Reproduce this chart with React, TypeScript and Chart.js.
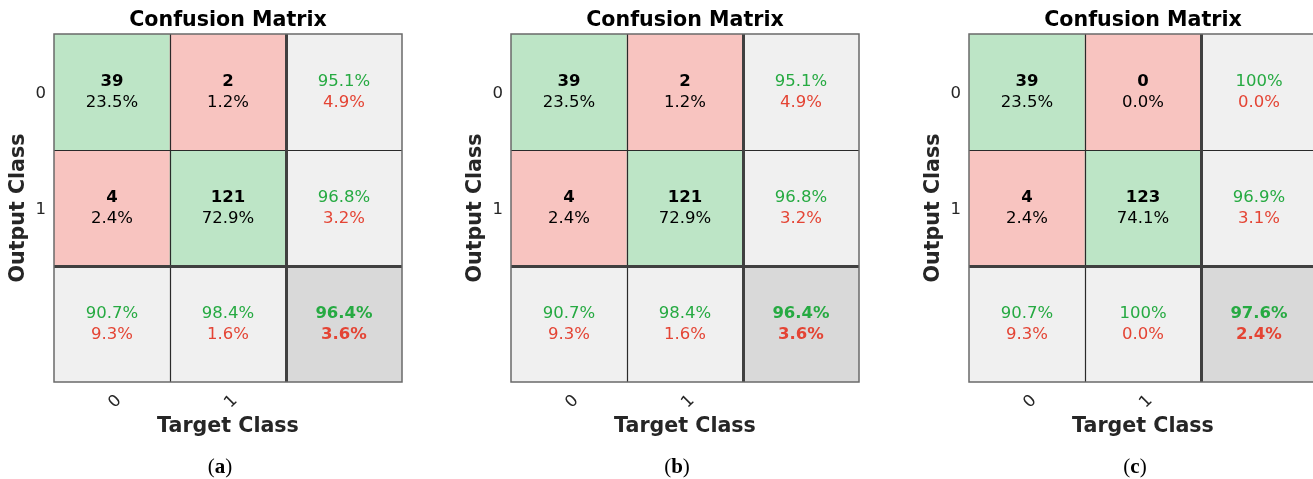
import React, { useEffect, useRef } from 'react';
import { Chart, registerables } from 'chart.js';

Chart.register(...registerables);

// ---------- data ----------
const targetClasses = ['0', '1'];
const outputClasses = ['0', '1'];
const chartTitle = 'Confusion Matrix';
const xAxisTitle = 'Target Class';
const yAxisTitle = 'Output Class';
const panelLetters = ['a', 'b', 'c'];

// counts[outputRow][targetCol]
const countsA = [[39, 2], [4, 121]];
const countsB = [[39, 2], [4, 121]];
const countsC = [[39, 0], [4, 123]];

const cellPctA = [[23.5, 1.2], [2.4, 72.9]];
const cellPctB = [[23.5, 1.2], [2.4, 72.9]];
const cellPctC = [[23.5, 0.0], [2.4, 74.1]];

// per output class (right column)
const rowCorrectA = [95.1, 96.8];
const rowWrongA = [4.9, 3.2];
const rowCorrectB = [95.1, 96.8];
const rowWrongB = [4.9, 3.2];
const rowCorrectC = [100, 96.9];
const rowWrongC = [0.0, 3.1];

// per target class (bottom row)
const colCorrectA = [90.7, 98.4];
const colWrongA = [9.3, 1.6];
const colCorrectB = [90.7, 98.4];
const colWrongB = [9.3, 1.6];
const colCorrectC = [90.7, 100];
const colWrongC = [9.3, 0.0];

// overall (bottom-right)
const overallA = [96.4, 3.6];
const overallB = [96.4, 3.6];
const overallC = [97.6, 2.4];

// each matrix cell spans one unit on the value axis
const cellSpan = [1, 1, 1];

// ---------- style ----------
const FONT = '"DejaVu Sans", sans-serif';
const SERIF = '"Liberation Serif", "Times New Roman", serif';
const GREEN_FILL = 'rgb(189,229,198)';
const RED_FILL = 'rgb(248,196,192)';
const GRAY_FILL = 'rgb(240,240,240)';
const DARK_FILL = 'rgb(217,217,217)';
const GREEN_TEXT = 'rgb(38,170,66)';
const RED_TEXT = 'rgb(228,68,52)';
const AXIS_TEXT = '#262626';
const TITLE_SIZE = 20.6;

type PanelData = {
  letter: string;
  counts: number[][];
  cellPct: number[][];
  rowCorrect: number[];
  rowWrong: number[];
  colCorrect: number[];
  colWrong: number[];
  overall: number[];
  left: number;
};

const panels: PanelData[] = [
  { letter: panelLetters[0], counts: countsA, cellPct: cellPctA, rowCorrect: rowCorrectA, rowWrong: rowWrongA, colCorrect: colCorrectA, colWrong: colWrongA, overall: overallA, left: 0 },
  { letter: panelLetters[1], counts: countsB, cellPct: cellPctB, rowCorrect: rowCorrectB, rowWrong: rowWrongB, colCorrect: colCorrectB, colWrong: colWrongB, overall: overallB, left: 457 },
  { letter: panelLetters[2], counts: countsC, cellPct: cellPctC, rowCorrect: rowCorrectC, rowWrong: rowWrongC, colCorrect: colCorrectC, colWrong: colWrongC, overall: overallC, left: 915 },
];

const fmt = (v: number) => (v === 100 ? '100%' : v.toFixed(1) + '%');

const CANVAS_W = 440;
const CANVAS_H = 479;

function Panel({ p }: { p: PanelData }) {
  const ref = useRef<HTMLCanvasElement | null>(null);

  useEffect(() => {
    if (!ref.current) return;
    const n = targetClasses.length;

    const fillFor = (r: number, c: number) => {
      if (r < n && c < n) return r === c ? GREEN_FILL : RED_FILL;
      if (r === n && c === n) return DARK_FILL;
      return GRAY_FILL;
    };

    const datasets = [0, 1, 2].map((r) => ({
      label: 'row' + r,
      data: cellSpan,
      backgroundColor: [0, 1, 2].map((c) => fillFor(r, c)),
      borderWidth: 0,
      barPercentage: 1,
      categoryPercentage: 1,
    }));

    const matrixPlugin = {
      id: 'matrixText',
      afterDatasetsDraw(chart: any) {
        const ctx = chart.ctx as CanvasRenderingContext2D;
        const xs = chart.scales.x;
        const ys = chart.scales.y;
        const area = chart.chartArea;
        ctx.save();
        ctx.textAlign = 'center';
        ctx.textBaseline = 'middle';
        const LINE = 10.5;
        const normal = `16.5px ${FONT}`;
        const bold = `bold 16.5px ${FONT}`;

        for (let r = 0; r <= n; r++) {
          for (let c = 0; c <= n; c++) {
            const cx = xs.getPixelForValue(c);
            const cy = ys.getPixelForValue(r + 0.5);
            let top = '';
            let bottom = '';
            let topColor = '#000';
            let bottomColor = '#000';
            let topFont = normal;
            let bottomFont = normal;
            if (r < n && c < n) {
              top = String(p.counts[r][c]);
              bottom = fmt(p.cellPct[r][c]);
              topFont = bold;
            } else if (r < n && c === n) {
              top = fmt(p.rowCorrect[r]);
              bottom = fmt(p.rowWrong[r]);
              topColor = GREEN_TEXT;
              bottomColor = RED_TEXT;
            } else if (r === n && c < n) {
              top = fmt(p.colCorrect[c]);
              bottom = fmt(p.colWrong[c]);
              topColor = GREEN_TEXT;
              bottomColor = RED_TEXT;
            } else {
              top = fmt(p.overall[0]);
              bottom = fmt(p.overall[1]);
              topColor = GREEN_TEXT;
              bottomColor = RED_TEXT;
              topFont = bold;
              bottomFont = bold;
            }
            ctx.font = topFont;
            ctx.fillStyle = topColor;
            ctx.fillText(top, cx, cy - LINE);
            ctx.font = bottomFont;
            ctx.fillStyle = bottomColor;
            ctx.fillText(bottom, cx, cy + LINE);
          }
        }

        // grid lines
        const xb = [0, 1, 2, 3].map((k) => xs.getPixelForValue(k - 0.5));
        const yb = [0, 1, 2, 3].map((k) => ys.getPixelForValue(k));
        const L = xb[0], R = xb[3], T = yb[0], B = yb[3];

        // thin inner lines
        ctx.strokeStyle = '#2a2a2a';
        ctx.lineWidth = 1.2;
        ctx.beginPath();
        ctx.moveTo(Math.round(xb[1]) + 0.5, T);
        ctx.lineTo(Math.round(xb[1]) + 0.5, B);
        ctx.moveTo(L, Math.round(yb[1]) + 0.5);
        ctx.lineTo(R, Math.round(yb[1]) + 0.5);
        ctx.stroke();

        // thick separators
        ctx.strokeStyle = '#404040';
        ctx.lineWidth = 3;
        ctx.beginPath();
        ctx.moveTo(Math.round(xb[2]) + 0.5, T);
        ctx.lineTo(Math.round(xb[2]) + 0.5, B);
        ctx.moveTo(L, Math.round(yb[2]) + 0.5);
        ctx.lineTo(R, Math.round(yb[2]) + 0.5);
        ctx.stroke();

        // outer border
        ctx.strokeStyle = '#6a6a6a';
        ctx.lineWidth = 1.5;
        ctx.strokeRect(Math.round(L), Math.round(T), Math.round(R) - Math.round(L), Math.round(B) - Math.round(T));

        // title
        const midX = (area.left + area.right) / 2;
        ctx.fillStyle = '#000';
        ctx.font = `bold ${TITLE_SIZE}px ${FONT}`;
        ctx.textAlign = 'center';
        ctx.textBaseline = 'middle';
        ctx.fillText(chartTitle, midX, area.top - 13.5);

        // caption "(x)"
        ctx.textBaseline = 'alphabetic';
        ctx.textAlign = 'left';
        const regular = `21px ${SERIF}`;
        const boldSerif = `bold 21px ${SERIF}`;
        ctx.font = regular;
        const wOpen = ctx.measureText('(').width;
        const wClose = ctx.measureText(')').width;
        ctx.font = boldSerif;
        const wLetter = ctx.measureText(p.letter).width;
        const total = wOpen + wLetter + wClose;
        const capCenter = midX - 8;
        let x0 = capCenter - total / 2;
        const baseY = 473;
        ctx.fillStyle = '#000';
        ctx.font = regular;
        ctx.fillText('(', x0, baseY);
        x0 += wOpen;
        ctx.font = boldSerif;
        ctx.fillText(p.letter, x0, baseY);
        x0 += wLetter;
        ctx.font = regular;
        ctx.fillText(')', x0, baseY);
        ctx.restore();
      },
    };

    const chart = new Chart(ref.current, {
      type: 'bar',
      data: {
        labels: [...targetClasses, ''],
        datasets: datasets as any,
      },
      options: {
        animation: false,
        responsive: false,
        maintainAspectRatio: false,
        layout: { padding: { left: 0, right: 38, top: 34, bottom: 0 } },
        plugins: {
          legend: { display: false },
          tooltip: { enabled: false },
          title: { display: false },
        },
        scales: {
          x: {
            type: 'category',
            stacked: true,
            offset: true,
            grid: { display: false, drawTicks: false },
            border: { display: false },
            ticks: {
              autoSkip: false,
              minRotation: 45,
              maxRotation: 45,
              labelOffset: 7,
              padding: 9,
              color: AXIS_TEXT,
              font: { family: FONT, size: 16.5 },
            },
            afterFit: (s: any) => {
              s.height = 97;
            },
            title: {
              display: true,
              text: xAxisTitle,
              color: AXIS_TEXT,
              font: { family: FONT, size: TITLE_SIZE, weight: 'bold' },
              padding: { top: 0, bottom: 40 },
            },
          },
          y: {
            type: 'linear',
            stacked: true,
            min: 0,
            max: 3,
            reverse: true,
            grid: { display: false, drawTicks: false },
            border: { display: false },
            afterBuildTicks: (s: any) => {
              s.ticks = outputClasses.map((_, i) => ({ value: i + 0.5 }));
            },
            ticks: {
              autoSkip: false,
              padding: 8,
              labelOffset: 2,
              color: AXIS_TEXT,
              font: { family: FONT, size: 16.5 },
              callback: (_v: any, i: number) => outputClasses[i],
            },
            afterFit: (s: any) => {
              s.width = 54;
            },
            title: {
              display: true,
              text: yAxisTitle,
              color: AXIS_TEXT,
              font: { family: FONT, size: TITLE_SIZE, weight: 'bold' },
              padding: { top: 6.4, bottom: 0 },
            },
          },
        },
      } as any,
      plugins: [matrixPlugin],
    });
    return () => chart.destroy();
  }, [p]);

  return (
    <canvas
      ref={ref}
      width={CANVAS_W}
      height={CANVAS_H}
      style={{ position: 'absolute', left: p.left, top: 0, width: CANVAS_W, height: CANVAS_H }}
    />
  );
}

export default function App() {
  return (
    <div
      style={{
        position: 'absolute',
        left: 0,
        top: 0,
        width: 1313,
        height: 479,
        overflow: 'hidden',
        background: '#fff',
      }}
    >
      {panels.map((p) => (
        <Panel key={p.letter} p={p} />
      ))}
    </div>
  );
}
